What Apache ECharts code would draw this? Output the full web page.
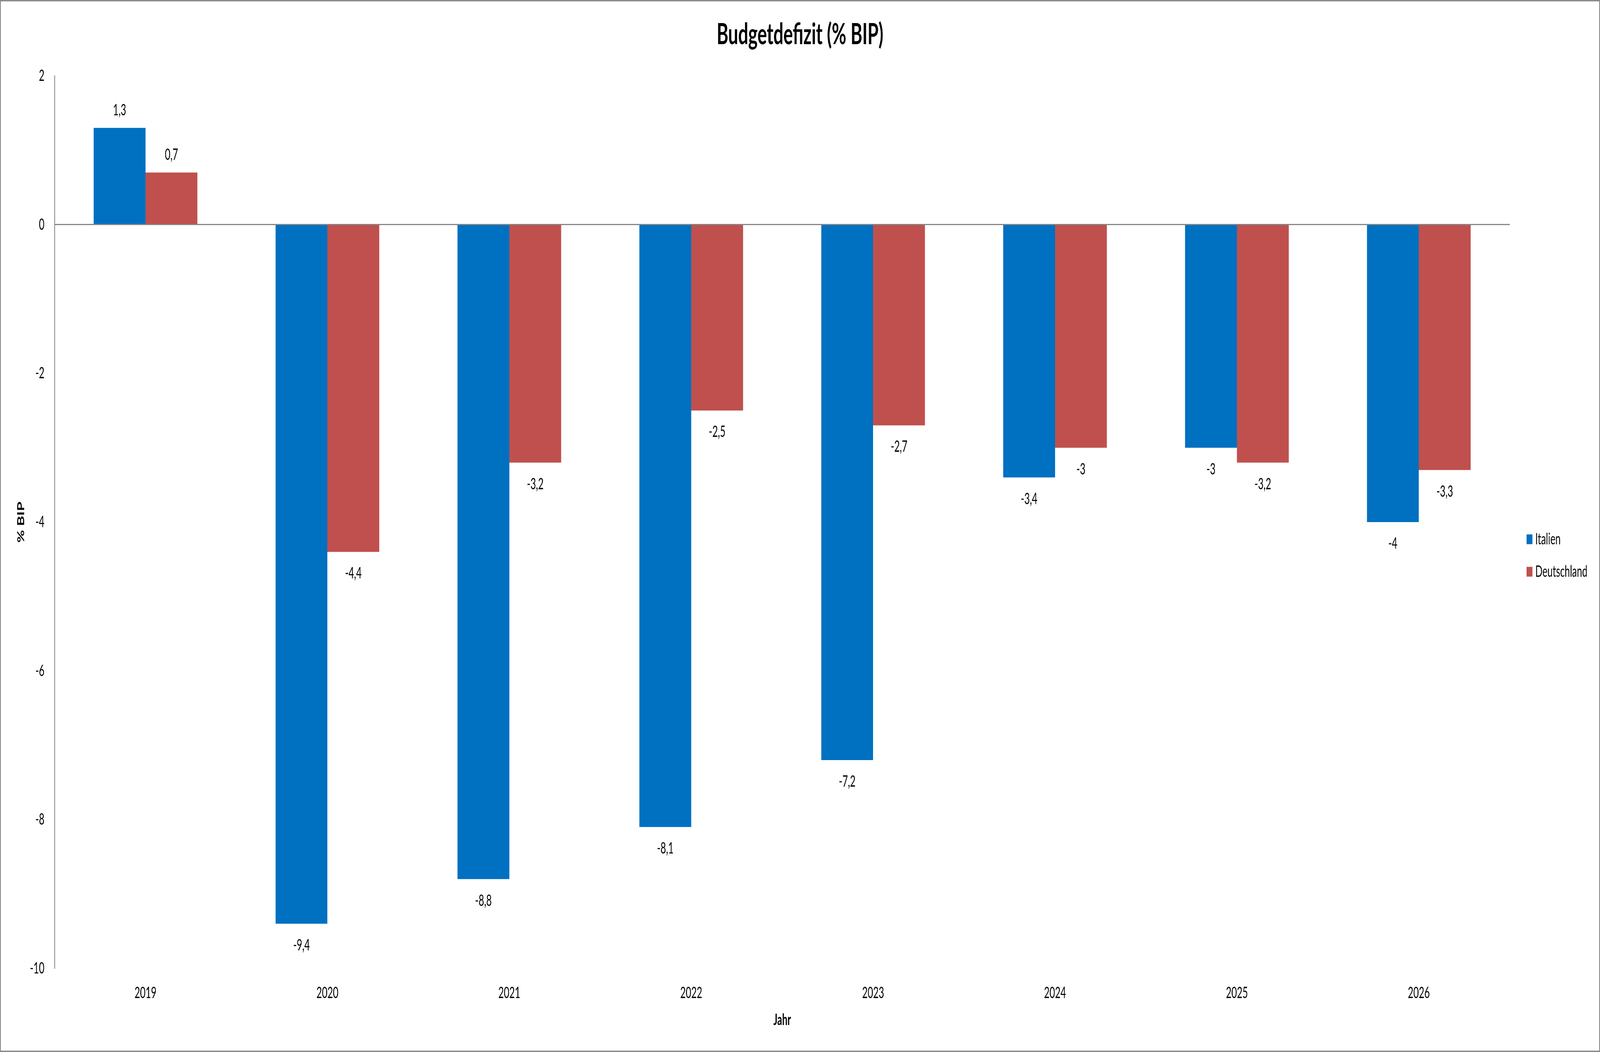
<!DOCTYPE html>
<html>
<head>
<meta charset="utf-8">
<script src="https://cdn.jsdelivr.net/npm/echarts@6/dist/echarts.min.js"></script>
<style>
html,body{margin:0;padding:0;background:#fff;overflow:hidden;}
#chart{width:6773px;height:2692px;transform-origin:0 0;}
</style>
</head>
<body>
<div id="chart"></div>
<script>
const categories = ['2019','2020','2021','2022','2023','2024','2025','2026'];
const italien = [1.3, -9.4, -8.8, -8.1, -7.2, -3.4, -3, -4];
const deutschland = [0.7, -4.4, -3.2, -2.5, -2.7, -3, -3.2, -3.3];
const seriesNames = ['Italien', 'Deutschland'];
const yMin = -10, yMax = 2, yStep = 2;

const W = 6773, H = 2692;
const el = document.getElementById('chart');
// the reference is 6773x2692; if the window is smaller, fit the whole chart into it
const sx = window.innerWidth / W, sy = window.innerHeight / H;
if (Math.abs(sx - 1) > 0.001 || Math.abs(sy - 1) > 0.001) {
  el.style.transform = 'scale(' + sx + ',' + sy + ')';
}

const FONT = 'Lato, "Open Sans", sans-serif';
const fmt = v => String(v).replace('.', ',');
const withLabels = arr => arr.map(v => ({value: v, label: {distance: v >= 0 ? 25 : 35}}));

const chart = echarts.init(el, null, {renderer: 'canvas', width: W, height: H});

const labelOpt = {
  show: true,
  position: 'outside',
  color: '#000',
  fontFamily: FONT,
  fontSize: 40,
  formatter: p => fmt(p.value)
};

chart.setOption({
  backgroundColor: '#fff',
  animation: false,
  title: {
    text: 'Budgetdefizit (% BIP)',
    left: 'center',
    top: 46,
    textStyle: {fontFamily: FONT, fontWeight: 'bold', fontSize: 75, color: '#000'}
  },
  legend: {
    orient: 'vertical',
    left: 6457,
    top: 1355,
    itemWidth: 25,
    itemHeight: 25,
    itemGap: 43,
    icon: 'rect',
    data: seriesNames,
    textStyle: {fontFamily: FONT, fontSize: 40, color: '#000', padding: [0, 0, 0, 7]}
  },
  grid: {left: 231, right: 382, top: 194, bottom: 214, containLabel: false},
  xAxis: {
    type: 'category',
    data: categories,
    position: 'bottom',
    axisLine: {show: false, onZero: false},
    axisTick: {show: false},
    axisLabel: {fontFamily: FONT, fontSize: 40, color: '#000', margin: 43},
    name: 'Jahr',
    nameLocation: 'middle',
    nameGap: 112,
    nameTextStyle: {fontFamily: FONT, fontSize: 40, fontWeight: 'bold', color: '#000'}
  },
  yAxis: {
    type: 'value',
    min: yMin,
    max: yMax,
    interval: yStep,
    splitLine: {show: false},
    axisLine: {show: true, lineStyle: {color: '#868686', width: 3}},
    axisTick: {show: false},
    axisLabel: {fontFamily: FONT, fontSize: 40, color: '#000', margin: 43},
    name: '% BIP',
    nameLocation: 'middle',
    nameRotate: 90,
    nameGap: 122,
    nameTextStyle: {fontFamily: FONT, fontSize: 40, fontWeight: 'bold', color: '#000'}
  },
  graphic: [{
    type: 'rect',
    shape: {x: 1.5, y: 1.5, width: W - 3, height: H - 3},
    style: {fill: 'none', stroke: '#898989', lineWidth: 4},
    silent: true
  }],
  series: [
    {
      name: seriesNames[0],
      type: 'bar',
      data: withLabels(italien),
      barGap: '0%',
      barCategoryGap: '43%',
      itemStyle: {color: '#0070C0'},
      label: labelOpt,
      markLine: {
        silent: true,
        symbol: 'none',
        label: {show: false},
        lineStyle: {color: '#868686', width: 3, type: 'solid'},
        data: [{yAxis: 0}]
      }
    },
    {
      name: seriesNames[1],
      type: 'bar',
      data: withLabels(deutschland),
      barGap: '0%',
      barCategoryGap: '43%',
      itemStyle: {color: '#C0504D'},
      label: labelOpt
    }
  ]
});
</script>
</body>
</html>
